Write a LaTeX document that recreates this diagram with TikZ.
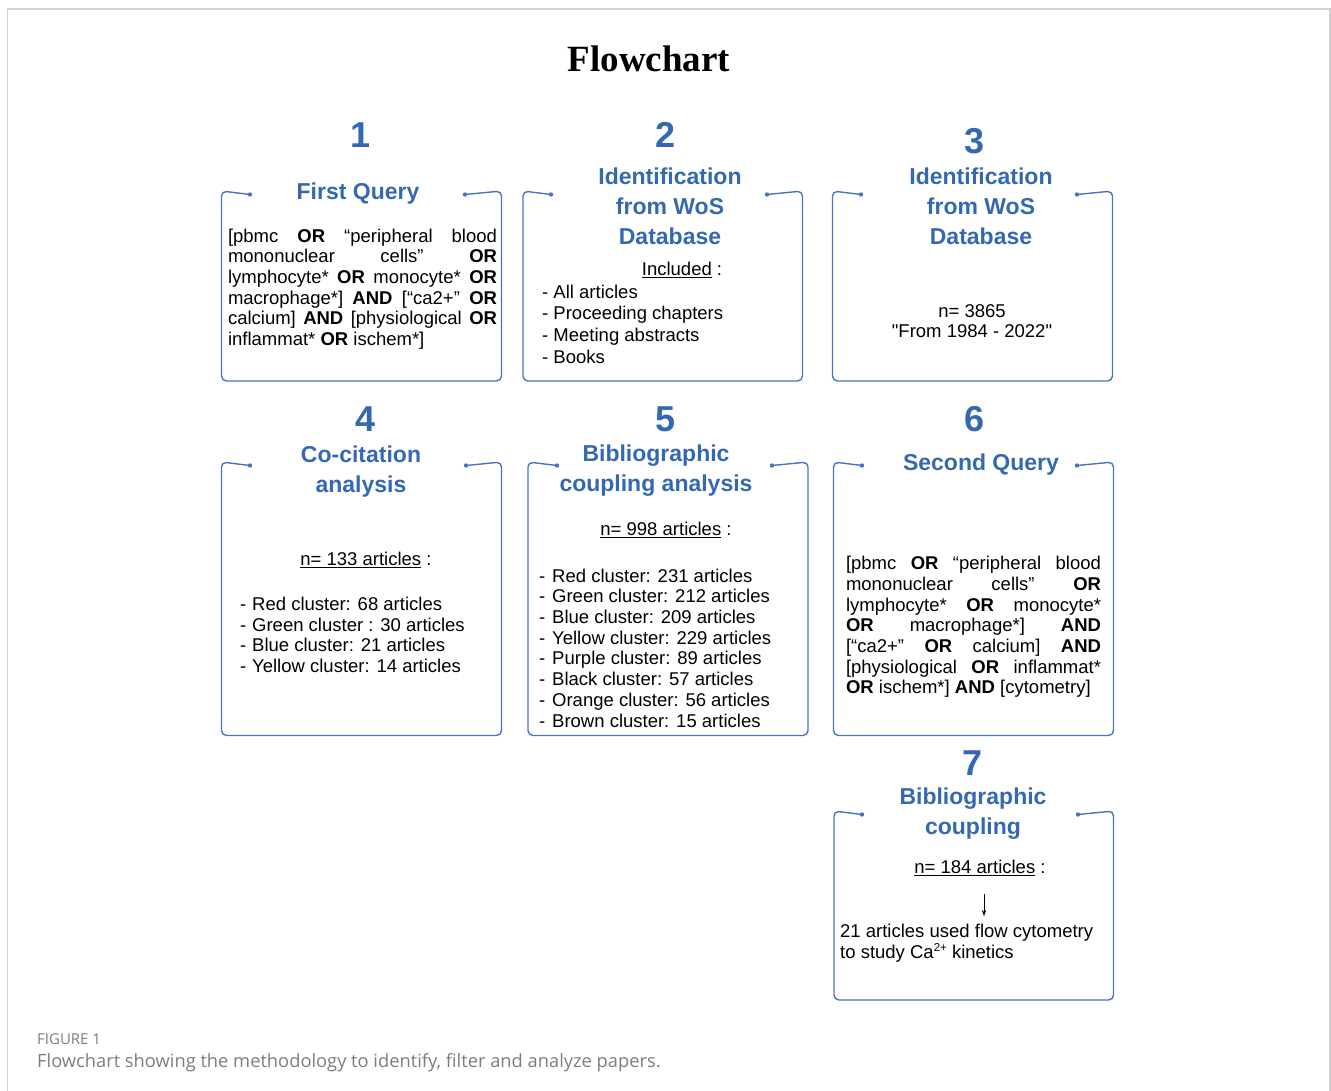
\documentclass[tikz,border=0pt]{standalone}
\usepackage{fontspec}
\usepackage{tikz}
\setmainfont{Liberation Sans}
\newfontfamily\titlefont{Liberation Serif}
\newfontfamily\capfont{Open Sans}
\definecolor{queryblue}{RGB}{52, 104, 176}
\definecolor{frameblue}{RGB}{72, 116, 190}
\definecolor{framegray}{RGB}{210, 210, 210}
\definecolor{captiongray}{RGB}{125, 125, 125}
\usetikzlibrary{arrows.meta, calc}

% open-topped box: x1, y1, x2, y2, left dot x, right dot x
\newcommand{\stepframe}[6]{%
  \draw[boxline] (#5,#2+3.5) -- (#1,#2) -- (#1,#4) -- (#3,#4) -- (#3,#2) -- (#6,#2+3.5);
  \fill[frameblue] (#5,#2+3.5) circle (2.2pt) (#6,#2+3.5) circle (2.2pt);
}
% one justified line of a query
\newcommand{\jline}[2]{\hbox to #1{#2}}

\begin{document}
\begin{tikzpicture}[x=1pt, y=-1pt,
    boxline/.style={draw=frameblue, line width=1.4pt, rounded corners=5pt},
    stepnum/.style={text=queryblue, font=\fontsize{36}{36}\selectfont\bfseries, inner sep=0pt},
    stephead/.style={text=queryblue, font=\fontsize{23}{30}\selectfont\bfseries, align=center, inner sep=0pt},
    bodytext/.style={font=\fontsize{18.5}{20.7}\selectfont, inner sep=0pt},
    listtext/.style={bodytext, align=left, anchor=west},
    arrow/.style={-{Stealth[length=6pt, width=4.5pt]}, line width=0.8pt}
]
    \useasboundingbox (0,0) rectangle (1331,1091);
    \draw[framegray, line width=1.5pt] (7.5,1091) -- (7.5,9) -- (1330,9) -- (1330,1091);

    \node[font=\titlefont\fontsize{37}{37}\selectfont\bfseries] (title) at (649,59) {Flowchart};

    % top row
    \stepframe{221.5}{191}{501.5}{381}{250}{465}
    \stepframe{523}{191}{802.5}{381}{551}{767}
    \stepframe{832.5}{191}{1112.5}{381}{861}{1077}
    % middle row
    \stepframe{221.5}{462}{501.5}{735.5}{250}{466}
    \stepframe{528}{462}{808}{735.5}{557}{772}
    \stepframe{833.5}{462}{1113.5}{735.5}{862}{1077}
    % last box
    \stepframe{834}{811}{1113.5}{1000}{862}{1078}

    \node[stepnum] (num1) at (361,135) {1};
    \node[stepnum] (num2) at (666,135) {2};
    \node[stepnum] (num3) at (975,141) {3};
    \node[stepnum] (num4) at (366,419) {4};
    \node[stepnum] (num5) at (666,419) {5};
    \node[stepnum] (num6) at (975,419) {6};
    \node[stepnum] (num7) at (973,763) {7};

    \node[stephead] (head1) at (358,194) {First Query};
    \node[stephead] (head2) at (670,206) {Identification\\from WoS\\Database};
    \node[stephead] (head3) at (981,206) {Identification\\from WoS\\Database};
    \node[stephead] (head4) at (361,472) {Co-citation\\analysis};
    \node[stephead] (head5) at (656,471) {Bibliographic\\coupling analysis};
    \node[stephead] (head6) at (981,465) {Second Query};
    \node[stephead] (head7) at (973,814) {Bibliographic\\coupling};

    % step 1
    \node[bodytext, align=left] (query1) at (362.5,289) {%
        \jline{269pt}{[pbmc \hfill \textbf{OR} \hfill “peripheral \hfill blood}\\
        \jline{269pt}{mononuclear \hfill cells” \hfill \textbf{OR}}\\
        \jline{269pt}{lymphocyte* \hfill \textbf{OR} \hfill monocyte* \hfill \textbf{OR}}\\
        \jline{269pt}{macrophage*] \hfill \textbf{AND} \hfill [“ca2+” \hfill \textbf{OR}}\\
        \jline{269pt}{calcium] \hfill \textbf{AND} \hfill [physiological \hfill \textbf{OR}}\\
        inflammat* \textbf{OR} ischem*]};

    % step 2
    \node[bodytext] (incl2) at (682,270) {\underline{Included} :};
    \node[listtext, font=\fontsize{18.5}{21.6}\selectfont] (list2) at (542,324) {%
        - All articles\\- Proceeding chapters\\- Meeting abstracts\\- Books};

    % step 3
    \node[bodytext, align=center] (count3) at (972,321) {n= 3865\\\textquotedbl From 1984 - 2022\textquotedbl};

    % step 4
    \node[bodytext] (count4) at (366,560) {\underline{n= 133 articles} :};
    \node[listtext] (list4) at (240,635) {%
        \makebox[12pt][l]{-}Red cluster: 68 articles\\
        \makebox[12pt][l]{-}Green cluster : 30 articles\\
        \makebox[12pt][l]{-}Blue cluster: 21 articles\\
        \makebox[12pt][l]{-}Yellow cluster: 14 articles};

    % step 5
    \node[bodytext] (count5) at (666,530) {\underline{n= 998 articles} :};
    \node[listtext] (list5) at (539,648) {%
        \makebox[13pt][l]{-}Red cluster: 231 articles\\
        \makebox[13pt][l]{-}Green cluster: 212 articles\\
        \makebox[13pt][l]{-}Blue cluster: 209 articles\\
        \makebox[13pt][l]{-}Yellow cluster: 229 articles\\
        \makebox[13pt][l]{-}Purple cluster: 89 articles\\
        \makebox[13pt][l]{-}Black cluster: 57 articles\\
        \makebox[13pt][l]{-}Orange cluster: 56 articles\\
        \makebox[13pt][l]{-}Brown cluster: 15 articles};

    % step 6
    \node[bodytext, align=left] (query6) at (973.5,627) {%
        \jline{255pt}{[pbmc \hfill \textbf{OR} \hfill “peripheral \hfill blood}\\
        \jline{255pt}{mononuclear \hfill cells” \hfill \textbf{OR}}\\
        \jline{255pt}{lymphocyte* \hfill \textbf{OR} \hfill monocyte*}\\
        \jline{255pt}{\textbf{OR} \hfill macrophage*] \hfill \textbf{AND}}\\
        \jline{255pt}{[“ca2+” \hfill \textbf{OR} \hfill calcium] \hfill \textbf{AND}}\\
        \jline{255pt}{[physiological \hfill \textbf{OR} \hfill inflammat*}\\
        \textbf{OR} ischem*] \textbf{AND} [cytometry]};

    % step 7
    \node[bodytext] (count7) at (980,868) {\underline{n= 184 articles} :};
    \coordinate (from7) at (984,894);
    \coordinate (to7) at (984,916);
    \draw[arrow] (from7) -- (to7);
    \node[listtext] (result7) at (840,943) {%
        21 articles used flow cytometry\\to study Ca\raisebox{7pt}{\fontsize{11.5}{11.5}\selectfont 2+} kinetics};

    % caption
    \node[anchor=west, inner sep=0pt, text=captiongray, font=\capfont\fontsize{15}{15}\selectfont] (figlabel) at (37,1039) {FIGURE 1};
    \node[anchor=west, inner sep=0pt, text=captiongray, font=\capfont\fontsize{18.3}{18.3}\selectfont] (figcaption) at (37,1063) {Flowchart showing the methodology to identify, filter and analyze papers.};
\end{tikzpicture}
\end{document}
